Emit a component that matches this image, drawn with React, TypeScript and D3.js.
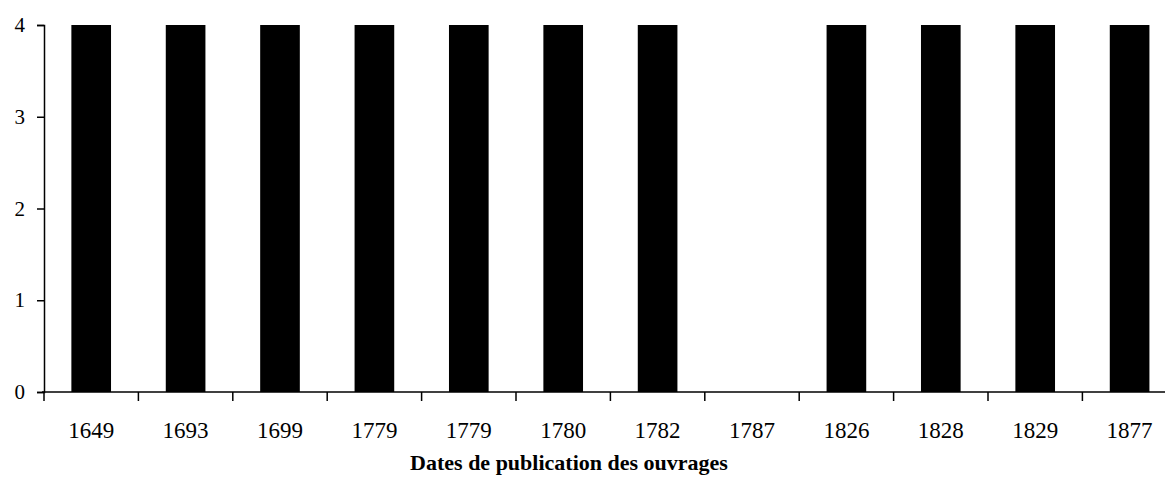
import { useEffect, useRef } from 'react'
import * as d3 from 'd3'

const CATEGORIES = ['1649', '1693', '1699', '1779', '1779', '1780', '1782', '1787', '1826', '1828', '1829', '1877']
const VALUES = [4, 4, 4, 4, 4, 4, 4, 0, 4, 4, 4, 4]
const Y_TICKS = [0, 1, 2, 3, 4]
const X_TITLE = 'Dates de publication des ouvrages'

export default function App() {
  const ref = useRef<SVGSVGElement>(null)

  useEffect(() => {
    if (!ref.current) return
    const width = 1165
    const height = 492
    const margin = { top: 25, left: 44, bottom: 100 }
    const font = '"Liberation Serif", "Times New Roman", serif'

    const svg = d3.select(ref.current)
    svg.selectAll('*').remove()
    svg.attr('width', width).attr('height', height)

    const data = CATEGORIES.map((c, i) => ({ key: c + '-' + i, label: c, value: VALUES[i] }))

    const x = d3
      .scaleBand()
      .domain(data.map((d) => d.key))
      .range([margin.left, margin.left + 12 * 94.4])
      .paddingInner(0.58)
      .paddingOuter(0.29)

    const y = d3
      .scaleLinear()
      .domain([0, 4])
      .range([height - margin.bottom, margin.top])

    const g = svg.append('g')

    g.selectAll('rect')
      .data(data)
      .join('rect')
      .attr('x', (d) => x(d.key)!)
      .attr('width', x.bandwidth())
      .attr('y', (d) => y(d.value))
      .attr('height', (d) => y(0) - y(d.value))
      .attr('fill', '#000')

    // y axis
    const yAxis = g
      .append('g')
      .attr('transform', `translate(${margin.left},0)`)
      .call(d3.axisLeft(y).tickValues(Y_TICKS).tickSize(7).tickPadding(12).tickFormat(d3.format('d')))
    yAxis.select('.domain').attr('stroke', '#000').attr('stroke-width', 1.5)
    yAxis.selectAll('line').attr('stroke', '#000').attr('stroke-width', 1.5)
    yAxis
      .selectAll('text')
      .attr('font-family', font)
      .attr('font-size', '21px')
      .attr('fill', '#000')

    // x axis with ticks between categories
    const x0 = margin.left - 2
    const x1 = margin.left + 12 * 94.4
    const step = x.step()
    const xg = g.append('g')
    xg.append('line')
      .attr('x1', x0)
      .attr('x2', x1)
      .attr('y1', y(0))
      .attr('y2', y(0))
      .attr('stroke', '#000')
      .attr('stroke-width', 1.5)
    d3.range(CATEGORIES.length + 1).forEach((i) => {
      const tx = margin.left + i * step
      xg.append('line')
        .attr('x1', tx)
        .attr('x2', tx)
        .attr('y1', y(0))
        .attr('y2', y(0) + 9)
        .attr('stroke', '#000')
        .attr('stroke-width', 1.5)
    })
    xg.selectAll('text.lab')
      .data(data)
      .join('text')
      .attr('class', 'lab')
      .attr('x', (d) => x(d.key)! + x.bandwidth() / 2)
      .attr('y', y(0) + 46)
      .attr('text-anchor', 'middle')
      .attr('font-family', font)
      .attr('font-size', '23px')
      .attr('fill', '#000')
      .text((d) => d.label)

    svg
      .append('text')
      .attr('x', 569)
      .attr('y', 470)
      .attr('text-anchor', 'middle')
      .attr('font-family', font)
      .attr('font-weight', 'bold')
      .attr('font-size', '22px')
      .attr('fill', '#000')
      .text(X_TITLE)
  }, [])

  return (
    <div style={{ position: 'absolute', left: 0, top: 0, background: '#fff' }}>
      <svg ref={ref} style={{ display: 'block' }} />
    </div>
  )
}
